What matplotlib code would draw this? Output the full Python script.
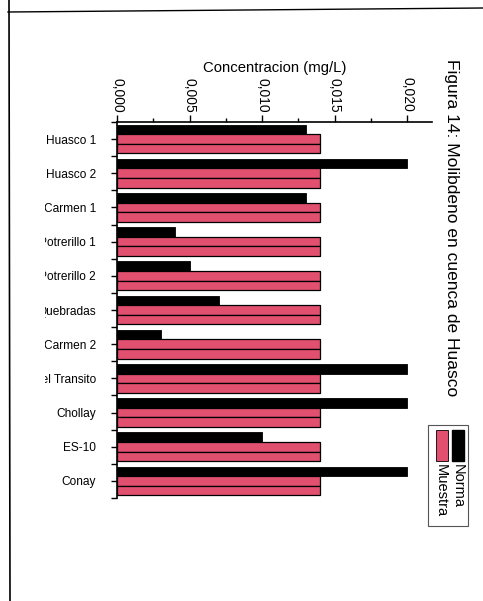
import numpy as np
import matplotlib.pyplot as plt
from matplotlib.patches import Rectangle
from matplotlib.lines import Line2D
from matplotlib.ticker import MultipleLocator, FuncFormatter
from matplotlib.transforms import Bbox

plt.rcParams['font.family'] = ['Liberation Sans', 'DejaVu Sans']

# Estaciones de muestreo, de arriba hacia abajo
estaciones = ['Huasco 1', 'Huasco 2', 'Carmen 1', 'Potrerillo 1', 'Potrerillo 2',
              'Quebradas', 'Carmen 2', 'Del Transito', 'Chollay', 'ES-10', 'Conay']

# Molibdeno (mg/L)
norma = [0.013, 0.020, 0.013, 0.004, 0.005, 0.007, 0.003, 0.020, 0.020, 0.010, 0.020]
muestra_a = [0.014, 0.014, 0.014, 0.014, 0.014, 0.014, 0.014, 0.014, 0.014, 0.014, 0.014]
muestra_b = [0.014, 0.014, 0.014, 0.014, 0.014, 0.014, 0.014, 0.014, 0.014, 0.014, 0.014]

titulo = 'Figura 14: Molibdeno en cuenca de Huasco'
eje_x = 'Concentracion (mg/L)'

W, H = 483, 601
ROSA = '#e2506f'

fig = plt.figure(figsize=(W / 100, H / 100), dpi=100)
fig.patch.set_facecolor('white')


def px(x, y):
    # pixeles (desde arriba a la izquierda) -> coordenadas de figura
    return x / W, 1 - y / H


ax = fig.add_axes([117 / W, 1 - 498 / H, (432 - 117) / W, (498 - 122) / H])

y = np.arange(len(estaciones))
h = 0.28
ax.barh(y - h, norma, height=h, color='black', edgecolor='black', linewidth=0.6)
ax.barh(y, muestra_a, height=h, color=ROSA, edgecolor='black', linewidth=0.9)
ax.barh(y + h, muestra_b, height=h, color=ROSA, edgecolor='black', linewidth=0.9)

ax.set_xlim(0, 0.0217)
ax.set_ylim(len(estaciones) - 0.5, -0.5)

for s in ['right', 'bottom']:
    ax.spines[s].set_visible(False)
for s in ['top', 'left']:
    ax.spines[s].set_linewidth(1.2)

ax.xaxis.tick_top()
ax.xaxis.set_label_position('top')
ax.xaxis.set_major_locator(MultipleLocator(0.005))
ax.xaxis.set_minor_locator(MultipleLocator(0.0025))
ax.xaxis.set_major_formatter(FuncFormatter(lambda v, p: f'{v:.3f}'.replace('.', ',')))
ax.tick_params(axis='x', which='major', length=5, width=1, pad=2, labelsize=10,
               labelrotation=-90, direction='out')
ax.tick_params(axis='x', which='minor', length=3, width=1, direction='out')
ax.set_xlabel(eje_x, fontsize=10.7, labelpad=4)

ax.set_yticks(y)
ax.set_yticks(np.arange(-0.5, len(estaciones), 1), minor=True)
ax.set_yticklabels(estaciones)
ax.tick_params(axis='y', which='both', length=4, width=1, direction='out')
ax.tick_params(axis='y', which='major', labelsize=8.6, pad=11)

# el borde de la hoja recorta las etiquetas largas
recorte = Bbox.from_extents(45, 0, W, H)
for t in ax.get_yticklabels():
    t.set_clip_on(True)
    t.set_clip_box(recorte)

fig.text(*px(451, 228), titulo, rotation=-90, ha='center', va='center', fontsize=12.5)

# leyenda girada
x0, y0 = px(428, 526)
fig.add_artist(Rectangle((x0, y0), 40 / W, 101 / H, transform=fig.transFigure,
                         facecolor='white', edgecolor='#555555', linewidth=0.8))
fig.add_artist(Rectangle(px(452, 461), 12 / W, 31 / H, transform=fig.transFigure,
                         facecolor='black', edgecolor='black'))
fig.add_artist(Rectangle(px(436, 461), 12 / W, 31 / H, transform=fig.transFigure,
                         facecolor=ROSA, edgecolor='black', linewidth=0.6))
fig.text(*px(458, 464), 'Norma', rotation=-90, ha='center', va='top', fontsize=10.5)
fig.text(*px(441, 464), 'Muestra', rotation=-90, ha='center', va='top', fontsize=10.5)

# bordes de la hoja
fig.add_artist(Line2D([9 / W, 10 / W], [1, 0], color='black', linewidth=1.2,
                      transform=fig.transFigure))
fig.add_artist(Line2D([8 / W, 1], [1 - 12 / H, 1 - 8 / H], color='black', linewidth=1.0,
                      transform=fig.transFigure))

fig.savefig('out.png', dpi=100)
